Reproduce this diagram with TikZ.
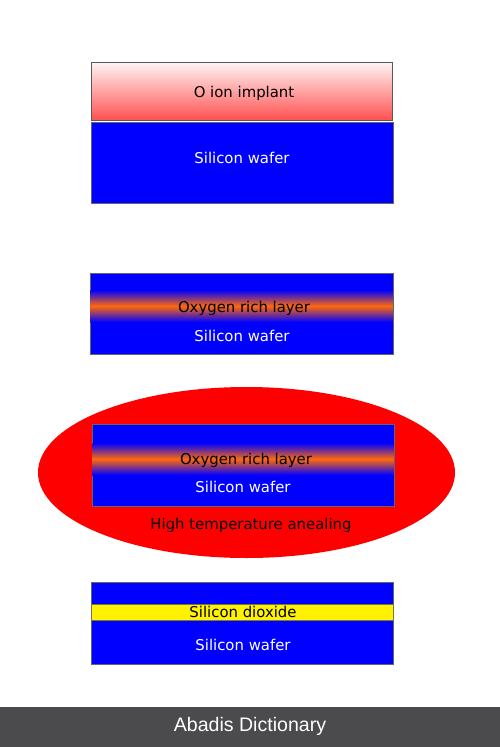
\documentclass[tikz,border=0pt]{standalone}
\usepackage{fontspec}
\setmainfont{DejaVu Sans}
\newfontfamily\barfont{Liberation Sans}
\definecolor{barcolor}{RGB}{75,74,77}
\definecolor{bandorange}{RGB}{255,105,10}
\tikzset{
  wafer/.style={fill=blue, draw=black!60, line width=0.5pt},
  band/.style={top color=blue, bottom color=blue, middle color=bandorange},
  lbl/.style={font=\fontsize{12.7}{15}\selectfont, inner sep=0pt, text height=1em, text depth=0pt},
}
\begin{document}
\begin{tikzpicture}[x=0.03cm,y=-0.03cm]
        \useasboundingbox (0,0) rectangle (500,747);
        % имплантация
        \filldraw[top color=red!4, bottom color=red!68, draw=black!65, line width=0.5pt] (91,62) rectangle (392,120);
        \node[lbl] (implant) at (244,92) {O ion implant};
        \filldraw[wafer] (91,122) rectangle (393,203);
        \node[lbl,white] (wafer1) at (242,158) {Silicon wafer};

        % слой кислорода
        \filldraw[wafer] (90,273) rectangle (393,354);
        \shade[band] (90.3,290) rectangle (392.7,322);
        \node[lbl] (layer1) at (244,307) {Oxygen rich layer};
        \node[lbl,white] (wafer2) at (242,336) {Silicon wafer};

        % отжиг
        \fill[red] (246.5,472.5) ellipse [x radius=208.5, y radius=85.5];
        \filldraw[wafer] (92,424) rectangle (394,506);
        \shade[band] (92.3,443) rectangle (393.7,475);
        \node[lbl] (layer2) at (246,459) {Oxygen rich layer};
        \node[lbl,white] (wafer3) at (243,487) {Silicon wafer};
        \node[lbl] (anneal) at (251,524) {High temperature anealing};

        % оксид
        \filldraw[wafer] (91,582) rectangle (393,664);
        \filldraw[fill=yellow, draw=black!60!yellow, line width=0.5pt] (91,604) rectangle (393,620);
        \node[lbl] (oxide) at (243,612) {Silicon dioxide};
        \node[lbl,white] (wafer4) at (243,645) {Silicon wafer};

        % подпись
        \fill[barcolor] (0,707) rectangle (500,747);
        \node[font=\barfont\fontsize{16.7}{19}\selectfont, white, inner sep=0pt, text height=0.72em, text depth=0pt] (brand) at (250,727) {Abadis Dictionary};
    \end{tikzpicture}
\end{document}
